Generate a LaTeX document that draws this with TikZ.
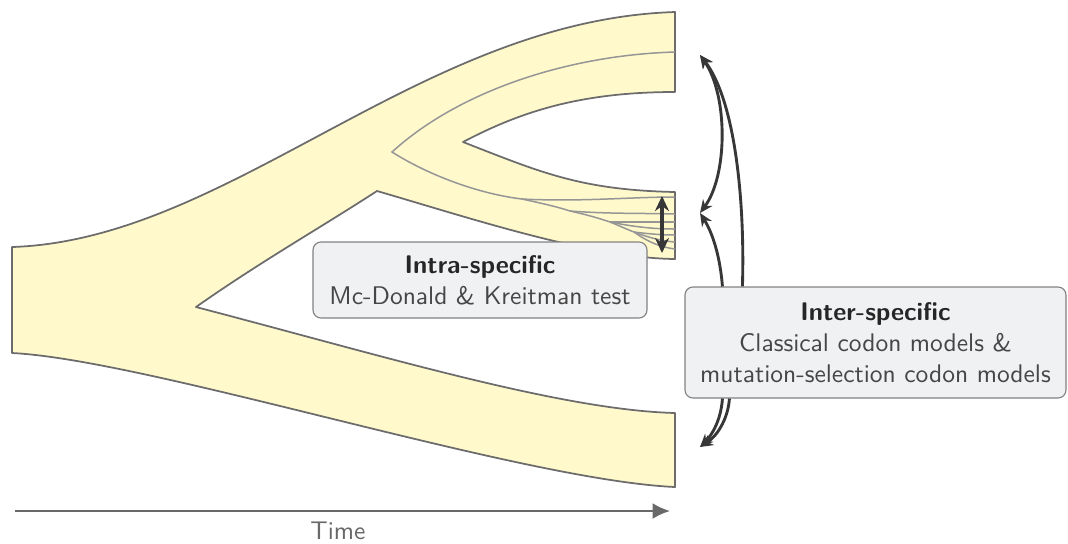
\documentclass[tikz,border=0pt]{standalone}
\usetikzlibrary{arrows.meta}
\definecolor{lineagefill}{RGB}{255,249,204}
\definecolor{lineageedge}{RGB}{108,108,108}
\definecolor{geneline}{RGB}{150,150,150}
\definecolor{boxfill}{RGB}{240,241,243}
\definecolor{boxedge}{RGB}{130,130,130}
\definecolor{arrowdark}{RGB}{55,55,55}
\definecolor{bodytext}{RGB}{70,70,70}
\definecolor{timegray}{RGB}{105,105,105}
\tikzset{
  lineage/.style={fill=lineagefill, draw=lineageedge, line width=0.7pt, line join=round},
  gene/.style={draw=geneline, line width=0.6pt},
  infobox/.style={draw=boxedge, fill=boxfill, line width=0.45pt, rounded corners=3.2pt,
     align=center, inner sep=0pt, font=\sffamily\fontsize{10.2}{12.4}\selectfont, text=bodytext},
  compar/.style={draw=arrowdark, line width=1.15pt, -{Stealth[length=5.2pt,width=4.6pt]}},
  timearrow/.style={draw=timegray, line width=0.8pt, -{Latex[length=7pt,width=6.4pt]}},
}
\begin{document}
\begin{tikzpicture}[x=0.4pt,y=-0.4pt]
\useasboundingbox (0,0) rectangle (1068,543);
% lineages
\path[lineage] (12,247) .. controls (230,240) and (420,20) .. (675,12)
  -- (675,92)
  .. controls (580,92) and (520,112) .. (463,142)
  .. controls (540,172) and (580,190) .. (675,192)
  -- (675,259)
  .. controls (590,258) and (470,218) .. (377,191)
  .. controls (320,228) and (260,262) .. (196,307)
  .. controls (380,355) and (560,410) .. (675,413)
  -- (675,487)
  .. controls (520,480) and (150,360) .. (12,353)
  -- cycle;
% gene lineages
\coordinate (g0) at (675,52);
\coordinate (gv) at (392,152);
\coordinate (s1) at (522,199);
\coordinate (s2) at (570,211);
\coordinate (s3) at (610,222);
\coordinate (s4) at (634,232);
\path[gene] (g0) .. controls (570,55) and (460,90) .. (gv)
  .. controls (430,176) and (480,194) .. (s1);
\path[gene] (s1) .. controls (580,202) and (630,197) .. (675,197);
\path[gene] (s1) .. controls (545,204) and (558,207) .. (s2);
\path[gene] (s2) .. controls (610,214) and (640,213) .. (675,214);
\path[gene] (s2) .. controls (588,215) and (598,218) .. (s3);
\path[gene] (s3) .. controls (640,222) and (660,222) .. (675,222);
\path[gene] (s3) .. controls (630,226) and (650,229) .. (675,229);
\path[gene] (s3) .. controls (620,226) and (626,229) .. (s4);
\path[gene] (s4) .. controls (650,234) and (662,235) .. (675,235);
\path[gene] (s4) .. controls (650,238) and (662,241) .. (675,242);
\path[gene] (s4) .. controls (648,242) and (660,247) .. (675,249);
% intra-specific comparison
\coordinate (ia) at (662,196);
\coordinate (ib) at (662,253);
\draw[draw=arrowdark, line width=1.4pt, {Stealth[length=6pt,width=5.6pt]}-{Stealth[length=6pt,width=5.6pt]}] (ia) -- (ib);
% boxes
\node[infobox, minimum width=133.6pt, minimum height=30.4pt] (intra) at (480,280)
  {{\bfseries\color{black!85}Intra-specific}\\Mc-Donald \& Kreitman test};
\node[infobox, minimum width=152.4pt, minimum height=44.4pt] (inter) at (875.5,342.5)
  {{\bfseries\color{black!85}Inter-specific}\\Classical codon models \&\\mutation-selection codon models};
% inter-specific comparisons
\coordinate (ta) at (700,55);
\coordinate (tb) at (700,213);
\coordinate (tc) at (700,447);
\draw[compar, {Stealth[length=5.2pt,width=4.6pt]}-{Stealth[length=5.2pt,width=4.6pt]}] (ta) .. controls (728,95) and (728,175) .. (tb);
\draw[compar] ([xshift=15.2pt]inter.north west) .. controls (720,255) and (712,232) .. (tb);
\draw[compar] ([xshift=23.2pt]inter.north west) .. controls (745,200) and (735,100) .. (ta);
\draw[compar] ([xshift=15.2pt]inter.south west) .. controls (721,420) and (712,435) .. (tc);
\draw[compar] ([xshift=18pt]inter.south west) .. controls (728,420) and (716,437) .. (tc);
% time axis
\coordinate (t0) at (15,511);
\coordinate (t1) at (670,511);
\draw[timearrow] (t0) -- (t1);
\node[font=\sffamily\fontsize{10.2}{12.4}\selectfont, text=timegray] (timelabel) at (338,531) {Time};
\end{tikzpicture}
\end{document}
